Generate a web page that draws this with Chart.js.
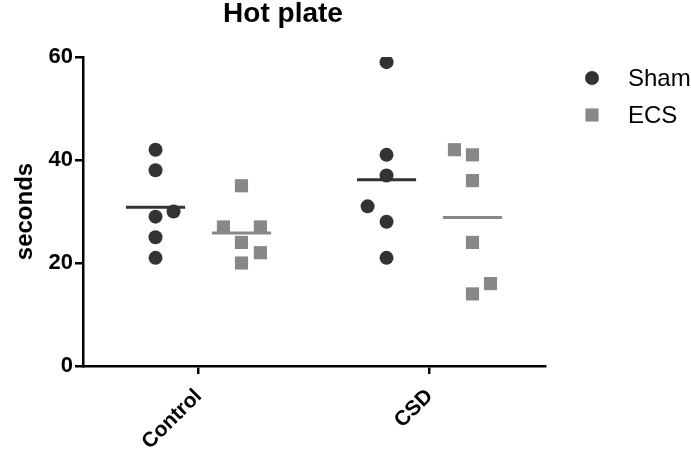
<!DOCTYPE html>
<html>
<head>
<meta charset="utf-8">
<script src="https://cdn.jsdelivr.net/npm/chart.js@4/dist/chart.umd.min.js"></script>
<style>
  html, body { margin: 0; padding: 0; background: #fff; }
  #wrap { width: 691px; height: 451px; position: relative; }
</style>
</head>
<body>
<div id="wrap"><canvas id="hotPlate"></canvas></div>
<script>
// categories and groups
const categories = ['Control', 'CSD'];
const groupNames = ['Sham', 'ECS'];
const yTicks = [0, 20, 40, 60];

// seconds (one array per group and category)
const shamControl = [42, 38, 29, 25, 21, 30];
const shamCSD = [59, 41, 37, 31, 28, 21];
const ecsControl = [35, 27, 27, 24, 22, 20];
const ecsCSD = [42, 41, 36, 24, 16, 14];

// horizontal scatter of overlapping points (fraction of a category width)
const shamControlJitter = [0, 0, 0, 0, 0, 0.078];
const shamCSDJitter = [0, 0, 0, -0.082, 0, 0];
const ecsControlJitter = [0, -0.078, 0.082, 0, 0.082, 0];
const ecsCSDJitter = [-0.078, 0, 0, 0, 0.078, 0];

const SHAM_COLOR = '#333333';
const ECS_COLOR = '#888888';
const GROUP_OFFSET = 0.186;   // where each group sits left/right of the category tick
const MEAN_HALF = 0.128;      // half length of the mean bar
const FONT = '"Liberation Sans", Arial, Helvetica, sans-serif';

function points(values, jitter, catIndex, offset) {
    return values.map((v, i) => ({ x: catIndex + offset + jitter[i], y: v }));
}

function mean(arr) {
    return arr.reduce((a, b) => a + b, 0) / arr.length;
}

function meanBars(groups, offset) {
    const out = [];
    groups.forEach((vals, c) => {
        const m = mean(vals);
        out.push({ x: c + offset - MEAN_HALF, y: m });
        out.push({ x: c + offset + MEAN_HALF, y: m });
        out.push({ x: c + offset + MEAN_HALF + 0.01, y: null });
    });
    return out;
}

const datasets = [
    {
        label: groupNames[0],
        data: points(shamControl, shamControlJitter, 0, -GROUP_OFFSET)
            .concat(points(shamCSD, shamCSDJitter, 1, -GROUP_OFFSET)),
        pointStyle: 'circle',
        pointRadius: 7,
        backgroundColor: SHAM_COLOR,
        borderWidth: 0
    },
    {
        label: groupNames[1],
        data: points(ecsControl, ecsControlJitter, 0, GROUP_OFFSET)
            .concat(points(ecsCSD, ecsCSDJitter, 1, GROUP_OFFSET)),
        pointStyle: 'rect',
        pointRadius: 9.3,
        backgroundColor: ECS_COLOR,
        borderWidth: 0
    },
    {
        label: 'Sham mean',
        data: meanBars([shamControl, shamCSD], -GROUP_OFFSET),
        showLine: true,
        spanGaps: false,
        pointRadius: 0,
        borderColor: SHAM_COLOR,
        borderWidth: 3
    },
    {
        label: 'ECS mean',
        data: meanBars([ecsControl, ecsCSD], GROUP_OFFSET),
        showLine: true,
        spanGaps: false,
        pointRadius: 0,
        borderColor: ECS_COLOR,
        borderWidth: 3
    }
];

// title and legend drawn in the empty space the way the original figure has them
const decorPlugin = {
    id: 'decor',
    afterDraw(chart) {
        const ctx = chart.ctx;
        ctx.save();
        ctx.fillStyle = '#000';
        ctx.font = 'bold 28px ' + FONT;
        ctx.textAlign = 'center';
        ctx.textBaseline = 'alphabetic';
        ctx.fillText('Hot plate', 283, 22);

        const legendItems = [
            { ds: chart.data.datasets[0], y: 78 },
            { ds: chart.data.datasets[1], y: 115 }
        ];
        legendItems.forEach(item => {
            ctx.fillStyle = item.ds.backgroundColor;
            Chart.helpers.drawPoint(ctx, {
                pointStyle: item.ds.pointStyle,
                radius: item.ds.pointRadius,
                rotation: 0,
                borderWidth: 0
            }, 592, item.y);
            ctx.fillStyle = '#000';
            ctx.font = '24px ' + FONT;
            ctx.textAlign = 'left';
            ctx.textBaseline = 'middle';
            ctx.fillText(item.ds.label, 628, item.y + 1);
        });
        ctx.restore();
    }
};

new Chart(document.getElementById('hotPlate'), {
    type: 'scatter',
    data: { datasets: datasets },
    plugins: [decorPlugin],
    options: {
        responsive: true,
        maintainAspectRatio: false,
        animation: false,
        layout: {
            padding: { top: 57, right: 146, left: 0, bottom: 0 }
        },
        plugins: {
            legend: { display: false },
            title: { display: false },
            tooltip: { enabled: false }
        },
        scales: {
            x: {
                type: 'linear',
                min: -0.5,
                max: 1.5,
                afterBuildTicks: (scale) => {
                    scale.ticks = categories.map((c, i) => ({ value: i }));
                },
                afterFit: (scale) => { scale.height = 85; },
                grid: {
                    drawOnChartArea: false,
                    color: '#000',
                    lineWidth: 2.5,
                    tickLength: 8
                },
                border: { color: '#000', width: 2.5 },
                ticks: {
                    color: '#000',
                    minRotation: 45,
                    maxRotation: 45,
                    padding: 10,
                    font: { family: FONT, size: 21, weight: 'bold' },
                    callback: (value) => categories[value]
                }
            },
            y: {
                min: 0,
                max: 60,
                afterBuildTicks: (scale) => {
                    scale.ticks = yTicks.map(v => ({ value: v }));
                },
                afterFit: (scale) => { scale.width = 83; },
                grid: {
                    drawOnChartArea: false,
                    color: '#000',
                    lineWidth: 2.5,
                    tickLength: 8
                },
                border: { color: '#000', width: 2.5 },
                ticks: {
                    color: '#000',
                    padding: 2,
                    font: { family: FONT, size: 22, weight: 'bold' }
                },
                title: {
                    display: true,
                    text: 'seconds',
                    color: '#000',
                    padding: { top: 11, bottom: 0 },
                    font: { family: FONT, size: 24, weight: 'bold' }
                }
            }
        }
    }
});
</script>
</body>
</html>
